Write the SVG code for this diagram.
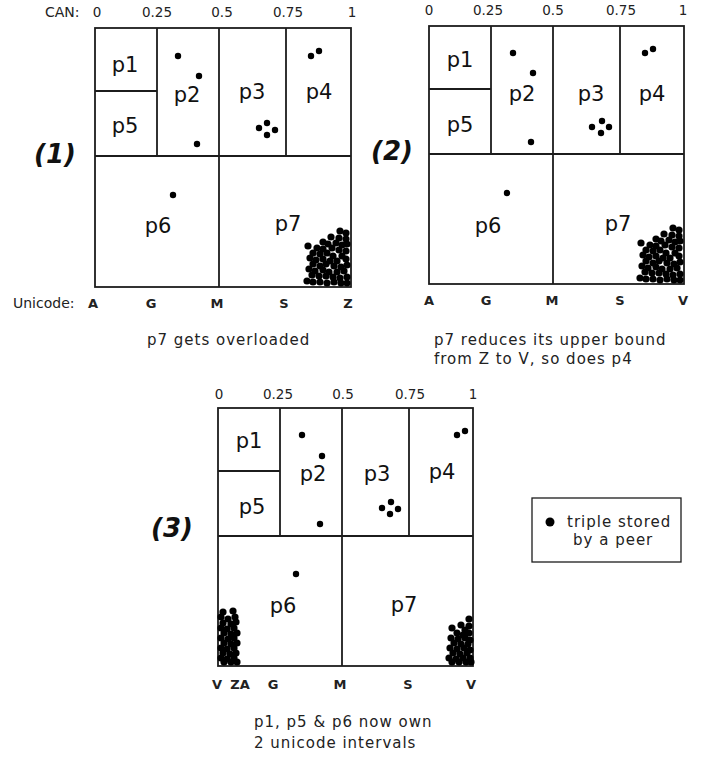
<svg xmlns="http://www.w3.org/2000/svg" xmlns:xlink="http://www.w3.org/1999/xlink" width="716" height="758" viewBox="0 0 716 758">
<style>
.ln{fill:none;stroke:#1c1c1c;stroke-width:1.8}
.cell{font-family:"DejaVu Sans","Liberation Sans",sans-serif;font-size:21px;text-anchor:middle;fill:#111}
.ax{font-family:"DejaVu Sans","Liberation Sans",sans-serif;font-size:13.5px;text-anchor:middle;fill:#222}
.uni{font-family:"DejaVu Sans","Liberation Sans",sans-serif;font-size:13px;font-weight:bold;text-anchor:middle;fill:#222}
.lab{font-family:"DejaVu Sans","Liberation Sans",sans-serif;font-size:14px;fill:#222}
.cap{font-family:"DejaVu Sans","Liberation Sans",sans-serif;font-size:15px;letter-spacing:1px;fill:#222}
.num{font-family:"DejaVu Sans","Liberation Sans",sans-serif;font-size:26px;font-weight:bold;font-style:italic;fill:#111}
.d{fill:#000}
</style>
<defs>
<circle id="dt" r="3.6" class="d"/>
<g id="cl1">
<use href="#dt" x="340" y="231"/><use href="#dt" x="346" y="233"/>
<use href="#dt" x="331" y="237"/><use href="#dt" x="339" y="238"/><use href="#dt" x="346" y="239"/>
<use href="#dt" x="323" y="242"/><use href="#dt" x="328" y="244"/><use href="#dt" x="336" y="243"/><use href="#dt" x="342" y="245"/><use href="#dt" x="347" y="244"/>
<use href="#dt" x="308" y="246"/><use href="#dt" x="317" y="248"/><use href="#dt" x="323" y="249"/><use href="#dt" x="332" y="248"/><use href="#dt" x="339" y="250"/><use href="#dt" x="346" y="251"/>
<use href="#dt" x="313" y="253"/><use href="#dt" x="320" y="254"/><use href="#dt" x="327" y="253"/><use href="#dt" x="333" y="256"/><use href="#dt" x="342" y="256"/>
<use href="#dt" x="310" y="258"/><use href="#dt" x="316" y="260"/><use href="#dt" x="323" y="259"/><use href="#dt" x="330" y="261"/><use href="#dt" x="337" y="261"/><use href="#dt" x="346" y="259"/>
<use href="#dt" x="313" y="264"/><use href="#dt" x="320" y="266"/><use href="#dt" x="326" y="264"/><use href="#dt" x="334" y="266"/><use href="#dt" x="341" y="267"/><use href="#dt" x="347" y="265"/>
<use href="#dt" x="309" y="269"/><use href="#dt" x="315" y="271"/><use href="#dt" x="323" y="270"/><use href="#dt" x="329" y="272"/><use href="#dt" x="337" y="272"/><use href="#dt" x="344" y="271"/>
<use href="#dt" x="312" y="275"/><use href="#dt" x="319" y="276"/><use href="#dt" x="326" y="276"/><use href="#dt" x="333" y="277"/><use href="#dt" x="340" y="278"/><use href="#dt" x="347" y="277"/>
<use href="#dt" x="307" y="281"/><use href="#dt" x="313" y="282"/><use href="#dt" x="320" y="282"/><use href="#dt" x="327" y="283"/><use href="#dt" x="334" y="282"/><use href="#dt" x="341" y="283"/><use href="#dt" x="347" y="283"/>
</g>
</defs>
<rect width="716" height="758" fill="#fff"/>

<g id="panel1">
<text class="lab" x="45" y="17">CAN:</text>
<text class="ax" x="97" y="17">0</text>
<text class="ax" x="157" y="17">0.25</text>
<text class="ax" x="222" y="17">0.5</text>
<text class="ax" x="288" y="17">0.75</text>
<text class="ax" x="352" y="17">1</text>
<rect class="ln" x="95" y="28" width="256" height="259"/>
<path class="ln" d="M95 156H351M157 28V156M219 28V287M286 28V156M95 91H157"/>
<g id="p1-1"><text class="cell" x="125" y="72">p1</text></g>
<g id="p1-5"><text class="cell" x="125" y="133">p5</text></g>
<g id="p1-2"><text class="cell" x="187" y="102">p2</text>
<circle class="d" cx="178" cy="56" r="3.2"/><circle class="d" cx="199" cy="76" r="3.2"/><circle class="d" cx="197" cy="144" r="3.2"/></g>
<g id="p1-3"><text class="cell" x="252" y="99">p3</text>
<circle class="d" cx="259" cy="128" r="3.2"/><circle class="d" cx="267" cy="123" r="3.2"/><circle class="d" cx="267" cy="135" r="3.2"/><circle class="d" cx="275" cy="130" r="3.2"/></g>
<g id="p1-4"><text class="cell" x="319" y="99">p4</text>
<circle class="d" cx="311" cy="56" r="3.2"/><circle class="d" cx="319" cy="51" r="3.2"/></g>
<g id="p1-6"><text class="cell" x="158" y="233">p6</text>
<circle class="d" cx="173" cy="195" r="3.2"/></g>
<g id="p1-7"><text class="cell" x="288" y="231">p7</text>
<use href="#cl1"/></g>
<text class="lab" x="13" y="308">Unicode:</text>
<text class="uni" x="93" y="308">A</text>
<text class="uni" x="151" y="308">G</text>
<text class="uni" x="217" y="308">M</text>
<text class="uni" x="284" y="308">S</text>
<text class="uni" x="348" y="308">Z</text>
<text class="num" x="34" y="163">(1)</text>
<text class="cap" x="147" y="345">p7 gets overloaded</text>
</g>

<g id="panel2">
<text class="ax" x="429" y="15">0</text>
<text class="ax" x="488" y="15">0.25</text>
<text class="ax" x="553" y="15">0.5</text>
<text class="ax" x="621" y="15">0.75</text>
<text class="ax" x="683" y="15">1</text>
<rect class="ln" x="429" y="26" width="255" height="258"/>
<path class="ln" d="M429 154H684M491 26V154M553 26V284M620 26V154M429 89H491"/>
<g id="p2-1"><text class="cell" x="460" y="67">p1</text></g>
<g id="p2-5"><text class="cell" x="460" y="132">p5</text></g>
<g id="p2-2"><text class="cell" x="522" y="101">p2</text>
<circle class="d" cx="513" cy="53" r="3.2"/><circle class="d" cx="533" cy="73" r="3.2"/><circle class="d" cx="531" cy="142" r="3.2"/></g>
<g id="p2-3"><text class="cell" x="591" y="101">p3</text>
<circle class="d" cx="592" cy="127" r="3.2"/><circle class="d" cx="602" cy="121" r="3.2"/><circle class="d" cx="601" cy="133" r="3.2"/><circle class="d" cx="609" cy="127" r="3.2"/></g>
<g id="p2-4"><text class="cell" x="652" y="101">p4</text>
<circle class="d" cx="645" cy="53" r="3.2"/><circle class="d" cx="653" cy="49" r="3.2"/></g>
<g id="p2-6"><text class="cell" x="488" y="233">p6</text>
<circle class="d" cx="507" cy="193" r="3.2"/></g>
<g id="p2-7"><text class="cell" x="618" y="231">p7</text>
<use href="#cl1" transform="translate(333,-3)"/></g>
<text class="uni" x="429" y="305">A</text>
<text class="uni" x="486" y="305">G</text>
<text class="uni" x="552" y="305">M</text>
<text class="uni" x="620" y="305">S</text>
<text class="uni" x="683" y="305">V</text>
<text class="num" x="371" y="160">(2)</text>
<text class="cap" x="434" y="345">p7 reduces its upper bound</text>
<text class="cap" x="434" y="364">from Z to V, so does p4</text>
</g>

<g id="panel3">
<text class="ax" x="219" y="399">0</text>
<text class="ax" x="278" y="399">0.25</text>
<text class="ax" x="343" y="399">0.5</text>
<text class="ax" x="410" y="399">0.75</text>
<text class="ax" x="473" y="399">1</text>
<rect class="ln" x="218" y="408" width="255" height="258"/>
<path class="ln" d="M218 536H473M280 408V536M342 408V666M409 408V536M218 471H280"/>
<g id="p3-1"><text class="cell" x="249" y="448">p1</text></g>
<g id="p3-5"><text class="cell" x="252" y="514">p5</text></g>
<g id="p3-2"><text class="cell" x="313" y="481">p2</text>
<circle class="d" cx="302" cy="435" r="3.2"/><circle class="d" cx="322" cy="456" r="3.2"/><circle class="d" cx="320" cy="524" r="3.2"/></g>
<g id="p3-3"><text class="cell" x="377" y="481">p3</text>
<circle class="d" cx="382" cy="508" r="3.2"/><circle class="d" cx="391" cy="502" r="3.2"/><circle class="d" cx="390" cy="514" r="3.2"/><circle class="d" cx="398" cy="509" r="3.2"/></g>
<g id="p3-4"><text class="cell" x="442" y="479">p4</text>
<circle class="d" cx="457" cy="435" r="3.2"/><circle class="d" cx="465" cy="431" r="3.2"/></g>
<g id="p3-6"><text class="cell" x="283" y="613">p6</text>
<circle class="d" cx="296" cy="574" r="3.2"/>
<use href="#dt" x="223" y="612"/><use href="#dt" x="233" y="611"/>
<use href="#dt" x="221" y="617"/><use href="#dt" x="228" y="619"/><use href="#dt" x="235" y="617"/>
<use href="#dt" x="223" y="623"/><use href="#dt" x="231" y="624"/><use href="#dt" x="236" y="622"/>
<use href="#dt" x="221" y="628"/><use href="#dt" x="227" y="629"/><use href="#dt" x="234" y="628"/>
<use href="#dt" x="224" y="633"/><use href="#dt" x="231" y="634"/><use href="#dt" x="237" y="633"/>
<use href="#dt" x="221" y="638"/><use href="#dt" x="228" y="639"/><use href="#dt" x="234" y="638"/>
<use href="#dt" x="224" y="643"/><use href="#dt" x="231" y="644"/><use href="#dt" x="237" y="643"/>
<use href="#dt" x="221" y="648"/><use href="#dt" x="227" y="649"/><use href="#dt" x="234" y="648"/>
<use href="#dt" x="223" y="653"/><use href="#dt" x="230" y="654"/><use href="#dt" x="236" y="653"/>
<use href="#dt" x="221" y="658"/><use href="#dt" x="227" y="659"/><use href="#dt" x="234" y="658"/>
<use href="#dt" x="224" y="662"/><use href="#dt" x="231" y="662"/><use href="#dt" x="237" y="662"/>
</g>
<g id="p3-7"><text class="cell" x="404" y="612">p7</text>
<use href="#dt" x="469" y="619"/>
<use href="#dt" x="461" y="625"/><use href="#dt" x="469" y="626"/>
<use href="#dt" x="452" y="628"/><use href="#dt" x="465" y="630"/>
<use href="#dt" x="457" y="633"/><use href="#dt" x="463" y="635"/><use href="#dt" x="469" y="633"/>
<use href="#dt" x="451" y="638"/><use href="#dt" x="458" y="639"/><use href="#dt" x="465" y="638"/><use href="#dt" x="470" y="640"/>
<use href="#dt" x="454" y="643"/><use href="#dt" x="461" y="644"/><use href="#dt" x="468" y="644"/>
<use href="#dt" x="450" y="648"/><use href="#dt" x="457" y="649"/><use href="#dt" x="464" y="648"/><use href="#dt" x="470" y="650"/>
<use href="#dt" x="453" y="653"/><use href="#dt" x="460" y="654"/><use href="#dt" x="467" y="653"/>
<use href="#dt" x="449" y="658"/><use href="#dt" x="456" y="659"/><use href="#dt" x="463" y="658"/><use href="#dt" x="470" y="658"/>
<use href="#dt" x="452" y="662"/><use href="#dt" x="459" y="662"/><use href="#dt" x="466" y="662"/><use href="#dt" x="471" y="662"/>
</g>
<text class="uni" x="217" y="689">V</text>
<text class="uni" x="240" y="689">ZA</text>
<text class="uni" x="273" y="689">G</text>
<text class="uni" x="340" y="689">M</text>
<text class="uni" x="408" y="689">S</text>
<text class="uni" x="471" y="689">V</text>
<text class="num" x="151" y="537">(3)</text>
<text class="cap" x="254" y="727">p1, p5 &amp; p6 now own</text>
<text class="cap" x="254" y="748">2 unicode intervals</text>
</g>

<g id="legend">
<rect x="532" y="498" width="149" height="64" fill="#fff" stroke="#1c1c1c" stroke-width="1.3"/>
<circle class="d" cx="550" cy="522" r="4.5"/>
<text class="cap" x="567" y="527">triple stored</text>
<text class="cap" x="573" y="545">by a peer</text>
</g>
</svg>
